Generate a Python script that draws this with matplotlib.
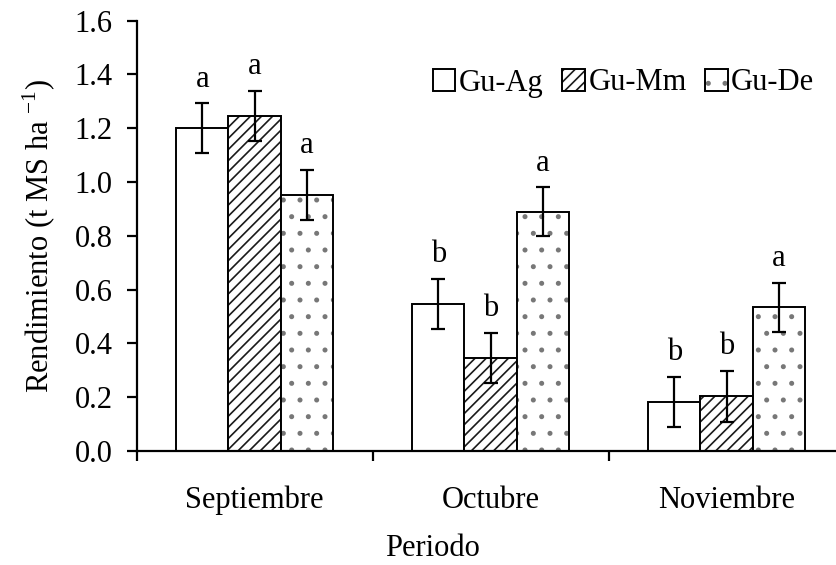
import numpy as np
import matplotlib.pyplot as plt

plt.rcParams['font.family'] = ['Liberation Serif', 'DejaVu Serif']
plt.rcParams['mathtext.fontset'] = 'custom'
plt.rcParams['mathtext.rm'] = 'Liberation Serif'
plt.rcParams['hatch.linewidth'] = 1.2

# Rendimiento por periodo y tratamiento
periodos = ['Septiembre', 'Octubre', 'Noviembre']
tratamientos = ['Gu-Ag', 'Gu-Mm', 'Gu-De']
gu_ag = [1.20, 0.546, 0.183]
gu_mm = [1.246, 0.347, 0.204]
gu_de = [0.952, 0.890, 0.534]
err_ag = [0.093, 0.094, 0.093]
err_mm = [0.093, 0.093, 0.095]
err_de = [0.093, 0.091, 0.092]
letras_ag = ['a', 'b', 'b']
letras_mm = ['a', 'b', 'b']
letras_de = ['a', 'a', 'a']

series = [gu_ag, gu_mm, gu_de]
errores = [err_ag, err_mm, err_de]
letras = [letras_ag, letras_mm, letras_de]
tramas = ['', '///', '.']
color_trama = ['black', '#1a1a1a', '#777777']

fs = 22
fig = plt.figure(figsize=(8.36, 5.65), dpi=100)
ax = fig.add_axes([136.7 / 836, 114 / 565, 708 / 836, 430.3 / 565])

x = np.arange(len(periodos))
w = 1 / 4.5
handles = []
for i, (vals, errs, lets, hatch) in enumerate(zip(series, errores, letras, tramas)):
    pos = x + (i - 1) * w
    # trama debajo, contorno negro encima
    fondo = ax.bar(pos, vals, w, color='white', edgecolor=color_trama[i],
                   linewidth=0, hatch=hatch)
    borde = ax.bar(pos, vals, w, fill=False, edgecolor='black', linewidth=1.4)
    handles.append((fondo[0], borde[0]))
    ax.errorbar(pos, vals, yerr=errs, fmt='none', ecolor='black',
                elinewidth=1.6, capsize=4.7, capthick=1.6)
    for xp, v, e, l in zip(pos, vals, errs, lets):
        ax.annotate(l, (xp, v + e), xytext=(0, 12), textcoords='offset points',
                    ha='center', va='baseline', fontsize=fs)

ax.set_xlim(-0.5, 2.5)
ax.set_ylim(0, 1.6)
ax.set_yticks(np.arange(0, 1.61, 0.2))
ax.set_yticklabels([f'{v:.1f}' for v in np.arange(0, 1.61, 0.2)])
ax.set_xticks([-0.5, 0.5, 1.5, 2.5])
ax.set_xticklabels([])
ax.set_xticks(x, minor=True)
ax.set_xticklabels(periodos, minor=True)
ax.tick_params(axis='y', direction='out', length=7.2, width=1.6, labelsize=fs, pad=10)
ax.tick_params(axis='x', which='major', direction='out', length=7.2, width=1.6)
ax.tick_params(axis='x', which='minor', length=0, labelsize=fs, pad=25)

for s in ['top', 'right']:
    ax.spines[s].set_visible(False)
for s in ['left', 'bottom']:
    ax.spines[s].set_linewidth(1.6)

ax.set_ylabel('Rendimiento (t MS ha $^{-1}$)', fontsize=fs)
ax.yaxis.set_label_coords(-0.111, 0.5)
ax.set_xlabel('Periodo', fontsize=fs, va='top')
ax.xaxis.set_label_coords(0.4185, -0.194)

ax.legend(handles, tratamientos, loc='center',
          bbox_to_anchor=(623.5 / 836, 482 / 565),
          bbox_transform=fig.transFigure, ncol=3, frameon=False, fontsize=fs,
          handlelength=0.74, handleheight=0.74, handletextpad=0.12,
          columnspacing=0.6, borderpad=0)

fig.savefig('out.png', dpi=100)
